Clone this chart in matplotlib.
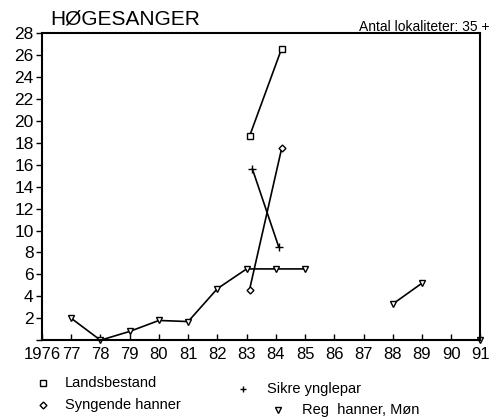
import numpy as np
import matplotlib
matplotlib.use("Agg")
import matplotlib.pyplot as plt
from matplotlib.lines import Line2D

plt.rcParams['font.family'] = ['Liberation Sans', 'DejaVu Sans']

years_lands = [83.1, 84.2]
landsbestand = [18.6, 26.6]
years_sikre = [83.2, 84.1]
sikre = [15.6, 8.5]
years_syng = [83.1, 84.2]
syngende = [4.6, 17.5]
years_reg = [77, 78, 79, 80, 81, 82, 83, 84, 85, 86, 87, 88, 89, 90, 91]
reg_hanner = [2.0, 0.0, 0.8, 1.8, 1.7, 4.7, 6.5, 6.5, 6.5, np.nan, np.nan, 3.3, 5.2, np.nan, 0.0]

xticks = list(range(1976, 1992))
xlabels = ['1976'] + [str(y % 100) for y in range(1977, 1992)]
yticks = list(range(0, 29, 2))
ylabels = [''] + [str(v) for v in range(2, 29, 2)]

fig = plt.figure(figsize=(4.91, 4.20), dpi=100)
ax = fig.add_axes([0.0855, 0.19, 0.893, 0.731])

def yr(v):
    return [1900 + x for x in v]

kw = dict(color='black', lw=1.2, markersize=4.5, markerfacecolor='white', markeredgecolor='black', markeredgewidth=1.0)
ax.plot(yr(years_lands), landsbestand, marker='s', **kw)
ax.plot(yr(years_sikre), sikre, marker='+', **{**kw, 'markersize': 6})
ax.plot(yr(years_syng), syngende, marker='D', **{**kw, 'markersize': 3.5})
ax.plot(yr(years_reg), reg_hanner, marker='v', clip_on=False, **kw)

ax.set_xlim(1976, 1991)
ax.set_ylim(0, 28)
ax.set_xticks(xticks)
ax.set_xticklabels(xlabels, fontsize=12)
ax.set_yticks(yticks)
ax.set_yticklabels(ylabels, fontsize=12.5)
ax.tick_params(axis='x', direction='in', length=4, width=1, pad=5)
ax.tick_params(axis='y', direction='out', length=4, width=1, pad=2)
for s in ax.spines.values():
    s.set_linewidth(1.5)

fig.text(0.102, 0.933, 'HØGESANGER', fontsize=15, ha='left', va='bottom')
fig.text(0.996, 0.920, 'Antal lokaliteter: 35 +', fontsize=10, ha='right', va='bottom')

# legend (manual, staggered)
legend_items = [
    ('s', 'Landsbestand', 0.088, 0.088, 0.132),
    ('+', 'Sikre ynglepar', 0.495, 0.074, 0.543),
    ('D', 'Syngende hanner', 0.088, 0.036, 0.132),
    ('v', 'Reg  hanner, Møn', 0.566, 0.023, 0.615),
]
for m, label, mx, my, tx in legend_items:
    ms = 4.5 if m != 'D' else 3.5
    if m == '+':
        ms = 5
    fig.add_artist(Line2D([mx], [my], marker=m, color='black', markersize=ms,
                          markerfacecolor='white', markeredgewidth=1.0,
                          transform=fig.transFigure, linestyle='none'))
    fig.text(tx, my, label, fontsize=10.5, ha='left', va='center')

fig.savefig('out.png', dpi=100)
